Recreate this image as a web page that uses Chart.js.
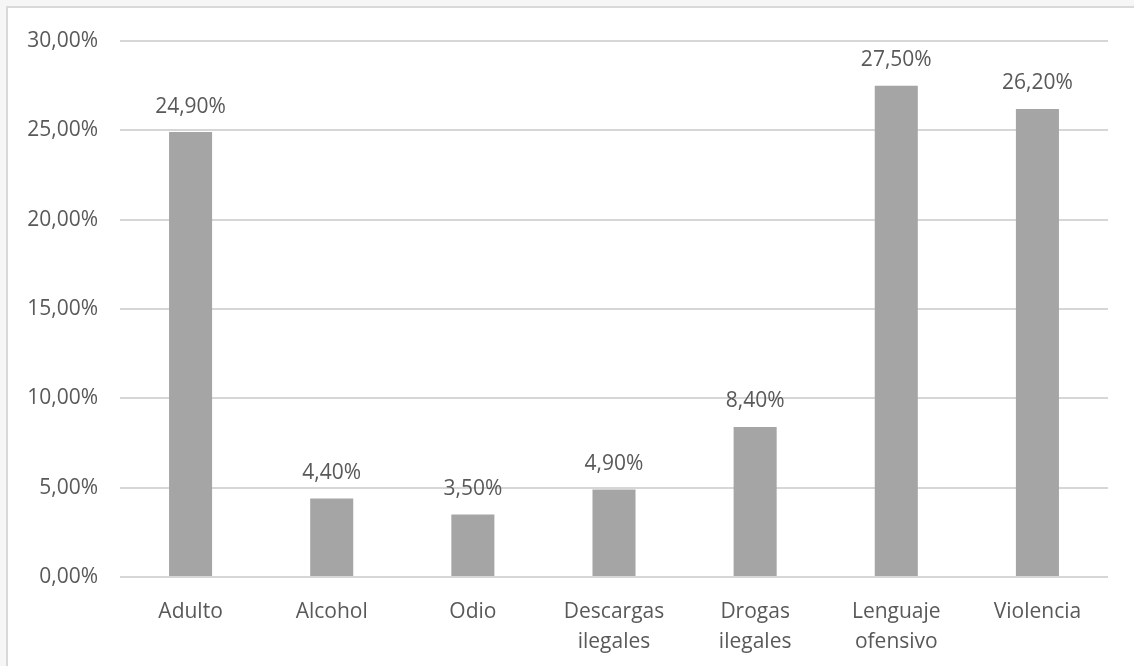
<!DOCTYPE html>
<html lang="es">
<head>
  <meta charset="UTF-8">
  <title>Categorías bloqueadas</title>
  <script src="https://cdn.jsdelivr.net/npm/chart.js@4.4.0/dist/chart.umd.min.js"></script>
  <style>
    html, body {
      margin: 0;
      padding: 0;
      background: #f6f6f6;
      overflow: hidden;
    }
    .frame {
      position: absolute;
      left: 6px;
      top: 6px;
      width: 1140px;
      height: 670px;
      border: 2px solid #d9d9d9;
      background: #fff;
    }
    .chart-box {
      position: absolute;
      left: 0;
      top: 0;
      width: 1134px;
      height: 666px;
    }
  </style>
</head>
<body>
  <div class="frame"></div>
  <div class="chart-box"><canvas id="chart"></canvas></div>

  <script>
    const categories = ['Adulto', 'Alcohol', 'Odio', ['Descargas', 'ilegales'], ['Drogas', 'ilegales'], ['Lenguaje', 'ofensivo'], 'Violencia'];
    const values = [24.9, 4.4, 3.5, 4.9, 8.4, 27.5, 26.2];
    const yTicks = [0, 5, 10, 15, 20, 25, 30];

    const textColor = '#595959';
    const fontFamily = '"Open Sans", "Noto Sans", sans-serif';

    // "24,90%" style labels
    const pct = v => v.toFixed(2).replace('.', ',') + '%';

    // value labels above each bar
    const barLabels = {
      id: 'barLabels',
      afterDatasetsDraw(chart) {
        const ctx = chart.ctx;
        const meta = chart.getDatasetMeta(0);
        ctx.save();
        ctx.font = '21px ' + fontFamily;
        ctx.fillStyle = textColor;
        ctx.textAlign = 'center';
        ctx.textBaseline = 'bottom';
        meta.data.forEach((bar, i) => {
          ctx.fillText(pct(values[i]), bar.x, bar.y - 15);
        });
        ctx.restore();
      }
    };

    new Chart(document.getElementById('chart'), {
      type: 'bar',
      data: {
        labels: categories,
        datasets: [{
          data: values,
          backgroundColor: '#a5a5a5',
          borderWidth: 0,
          categoryPercentage: 1,
          barPercentage: 0.305
        }]
      },
      options: {
        responsive: true,
        maintainAspectRatio: false,
        animation: false,
        layout: { padding: { top: 41, right: 26, bottom: 0, left: 0 } },
        plugins: {
          legend: { display: false },
          tooltip: { enabled: false }
        },
        scales: {
          x: {
            grid: { display: false },
            border: { display: false },
            ticks: {
              color: textColor,
              font: { family: fontFamily, size: 21, lineHeight: 1.43 },
              padding: 12,
              maxRotation: 0
            },
            afterFit(scale) { scale.height = 89; }
          },
          y: {
            min: 0,
            max: 30,
            afterBuildTicks(scale) { scale.ticks = yTicks.map(v => ({ value: v })); },
            grid: { color: '#d6d6d6', lineWidth: 2, drawTicks: false },
            border: { display: false },
            ticks: {
              color: textColor,
              font: { family: fontFamily, size: 21 },
              padding: 22,
              callback: v => pct(v)
            },
            afterFit(scale) { scale.width = 120; }
          }
        }
      },
      plugins: [barLabels]
    });
  </script>
</body>
</html>
